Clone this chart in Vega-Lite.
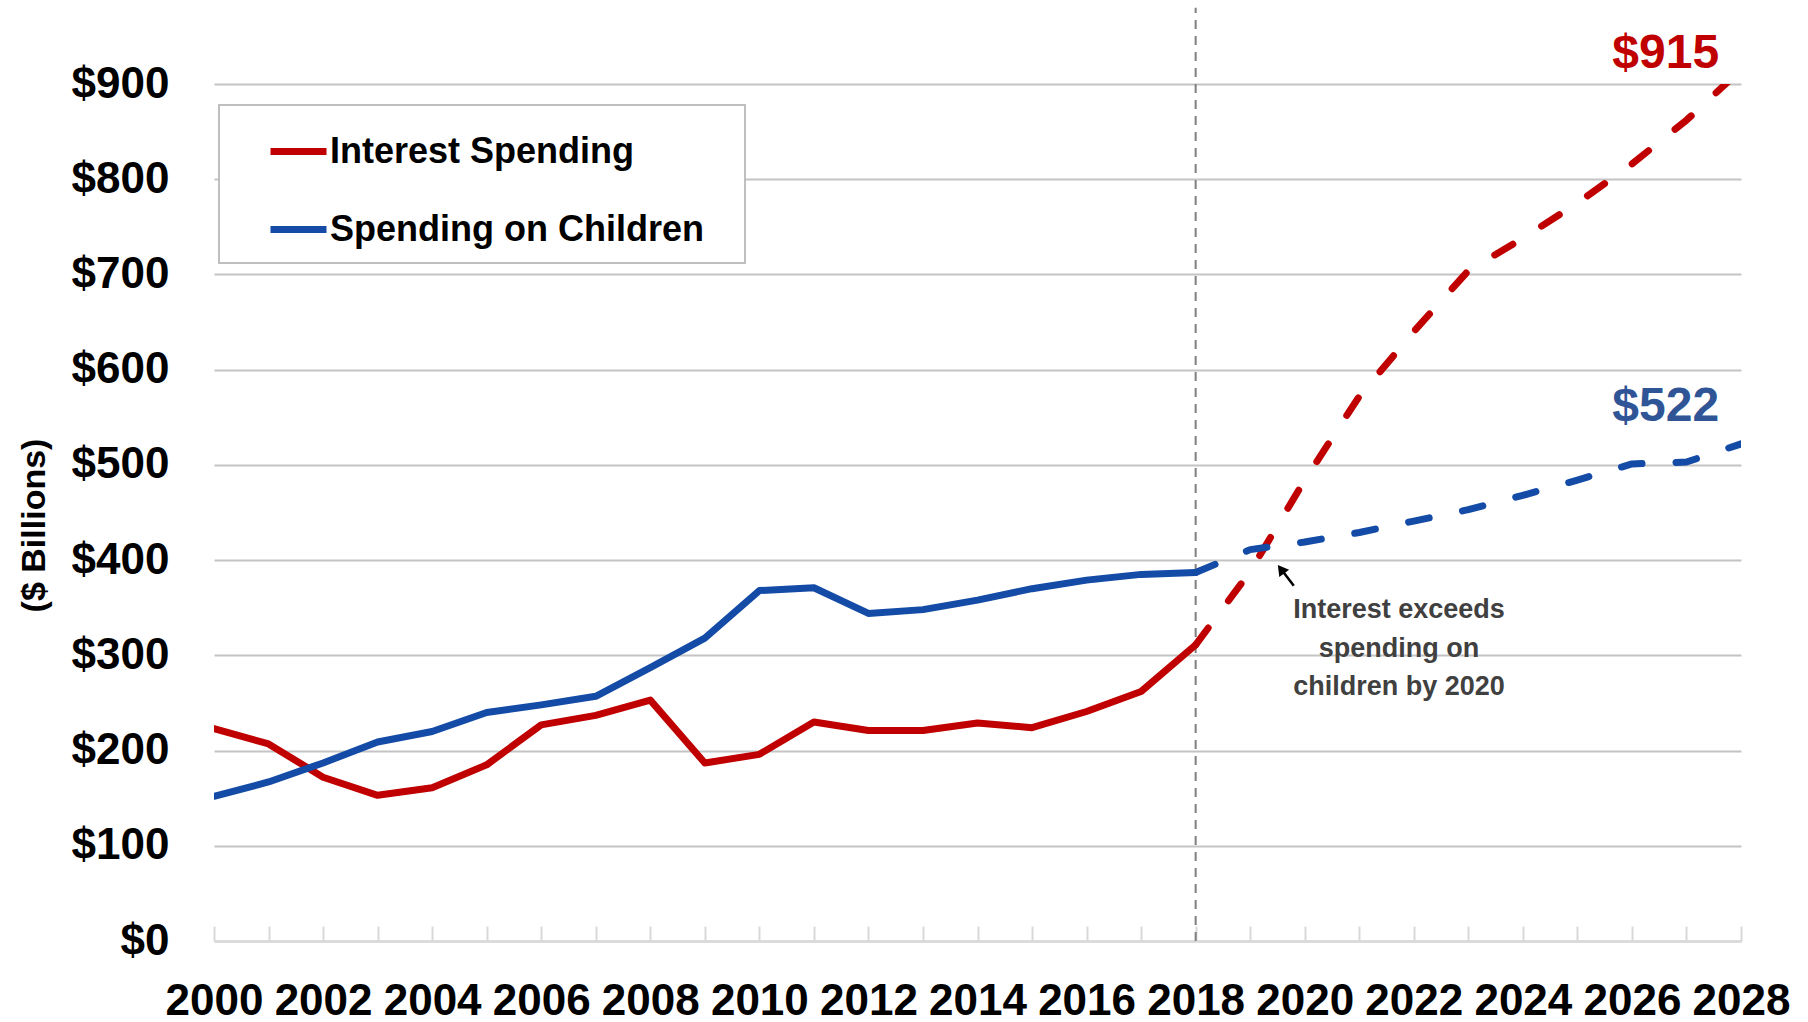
{
  "$schema": "https://vega.github.io/schema/vega-lite/v6.json",
  "autosize": "none",
  "width": 1527,
  "height": 857,
  "padding": {"left": 214, "top": 84, "right": 67, "bottom": 81},
  "background": "white",
  "config": {
    "font": "Liberation Sans",
    "view": {"stroke": null}
  },
  "datasets": {
    "lines": [
      {"year": 2000, "value": 223, "series": "Interest Spending", "phase": "actual"},
      {"year": 2001, "value": 207, "series": "Interest Spending", "phase": "actual"},
      {"year": 2002, "value": 172, "series": "Interest Spending", "phase": "actual"},
      {"year": 2003, "value": 153, "series": "Interest Spending", "phase": "actual"},
      {"year": 2004, "value": 161, "series": "Interest Spending", "phase": "actual"},
      {"year": 2005, "value": 185, "series": "Interest Spending", "phase": "actual"},
      {"year": 2006, "value": 227, "series": "Interest Spending", "phase": "actual"},
      {"year": 2007, "value": 237, "series": "Interest Spending", "phase": "actual"},
      {"year": 2008, "value": 253, "series": "Interest Spending", "phase": "actual"},
      {"year": 2009, "value": 187, "series": "Interest Spending", "phase": "actual"},
      {"year": 2010, "value": 196, "series": "Interest Spending", "phase": "actual"},
      {"year": 2011, "value": 230, "series": "Interest Spending", "phase": "actual"},
      {"year": 2012, "value": 221, "series": "Interest Spending", "phase": "actual"},
      {"year": 2013, "value": 221, "series": "Interest Spending", "phase": "actual"},
      {"year": 2014, "value": 229, "series": "Interest Spending", "phase": "actual"},
      {"year": 2015, "value": 224, "series": "Interest Spending", "phase": "actual"},
      {"year": 2016, "value": 241, "series": "Interest Spending", "phase": "actual"},
      {"year": 2017, "value": 262, "series": "Interest Spending", "phase": "actual"},
      {"year": 2018, "value": 311, "series": "Interest Spending", "phase": "actual"},
      {"year": 2018, "value": 311, "series": "Interest Spending", "phase": "projected"},
      {"year": 2019, "value": 388, "series": "Interest Spending", "phase": "projected"},
      {"year": 2020, "value": 484, "series": "Interest Spending", "phase": "projected"},
      {"year": 2021, "value": 572, "series": "Interest Spending", "phase": "projected"},
      {"year": 2022, "value": 640, "series": "Interest Spending", "phase": "projected"},
      {"year": 2023, "value": 704, "series": "Interest Spending", "phase": "projected"},
      {"year": 2024, "value": 738, "series": "Interest Spending", "phase": "projected"},
      {"year": 2025, "value": 775, "series": "Interest Spending", "phase": "projected"},
      {"year": 2026, "value": 816, "series": "Interest Spending", "phase": "projected"},
      {"year": 2027, "value": 862, "series": "Interest Spending", "phase": "projected"},
      {"year": 2028, "value": 915, "series": "Interest Spending", "phase": "projected"},
      {"year": 2000, "value": 152, "series": "Spending on Children", "phase": "actual"},
      {"year": 2001, "value": 167, "series": "Spending on Children", "phase": "actual"},
      {"year": 2002, "value": 187, "series": "Spending on Children", "phase": "actual"},
      {"year": 2003, "value": 209, "series": "Spending on Children", "phase": "actual"},
      {"year": 2004, "value": 220, "series": "Spending on Children", "phase": "actual"},
      {"year": 2005, "value": 240, "series": "Spending on Children", "phase": "actual"},
      {"year": 2006, "value": 248, "series": "Spending on Children", "phase": "actual"},
      {"year": 2007, "value": 257, "series": "Spending on Children", "phase": "actual"},
      {"year": 2008, "value": 287, "series": "Spending on Children", "phase": "actual"},
      {"year": 2009, "value": 318, "series": "Spending on Children", "phase": "actual"},
      {"year": 2010, "value": 368, "series": "Spending on Children", "phase": "actual"},
      {"year": 2011, "value": 371, "series": "Spending on Children", "phase": "actual"},
      {"year": 2012, "value": 344, "series": "Spending on Children", "phase": "actual"},
      {"year": 2013, "value": 348, "series": "Spending on Children", "phase": "actual"},
      {"year": 2014, "value": 358, "series": "Spending on Children", "phase": "actual"},
      {"year": 2015, "value": 370, "series": "Spending on Children", "phase": "actual"},
      {"year": 2016, "value": 379, "series": "Spending on Children", "phase": "actual"},
      {"year": 2017, "value": 385, "series": "Spending on Children", "phase": "actual"},
      {"year": 2018, "value": 387, "series": "Spending on Children", "phase": "actual"},
      {"year": 2018, "value": 387, "series": "Spending on Children", "phase": "projected"},
      {"year": 2019, "value": 411, "series": "Spending on Children", "phase": "projected"},
      {"year": 2020, "value": 419, "series": "Spending on Children", "phase": "projected"},
      {"year": 2021, "value": 429, "series": "Spending on Children", "phase": "projected"},
      {"year": 2022, "value": 441, "series": "Spending on Children", "phase": "projected"},
      {"year": 2023, "value": 453, "series": "Spending on Children", "phase": "projected"},
      {"year": 2024, "value": 468, "series": "Spending on Children", "phase": "projected"},
      {"year": 2025, "value": 484, "series": "Spending on Children", "phase": "projected"},
      {"year": 2026, "value": 501, "series": "Spending on Children", "phase": "projected"},
      {"year": 2027, "value": 503, "series": "Spending on Children", "phase": "projected"},
      {"year": 2028, "value": 522, "series": "Spending on Children", "phase": "projected"}
    ]
  },
  "layer": [
    {
      "data": {"values": [{"year": 2018, "lo": 0, "hi": 980}]},
      "mark": {"type": "rule", "color": "#7f7f7f", "strokeWidth": 2, "strokeDash": [9, 7]},
      "encoding": {
        "x": {"field": "year", "type": "quantitative",
          "scale": {"domain": [2000, 2028], "nice": false, "zero": false},
          "axis": {
            "values": [2000,2001,2002,2003,2004,2005,2006,2007,2008,2009,2010,2011,2012,2013,2014,2015,2016,2017,2018,2019,2020,2021,2022,2023,2024,2025,2026,2027,2028],
            "labelExpr": "datum.value % 2 === 0 ? '' + datum.value : ''",
            "title": null,
            "grid": false,
            "domain": true,
            "domainColor": "#d9d9d9",
            "domainWidth": 2,
            "ticks": true,
            "tickColor": "#d9d9d9",
            "tickWidth": 2,
            "tickSize": -15,
            "labelPadding": 53,
            "labelFontSize": 44,
            "labelFontWeight": "bold",
            "labelColor": "#000000",
            "labelFlush": false,
            "labelOverlap": false
          }
        },
        "y": {"field": "lo", "type": "quantitative",
          "scale": {"domain": [0, 900], "nice": false, "zero": true},
          "axis": {
            "values": [0,100,200,300,400,500,600,700,800,900],
            "labelExpr": "'$' + datum.value",
            "title": "($ Billions)",
            "titleFontSize": 34,
            "titleFontWeight": "bold",
            "titleColor": "#000000",
            "titleAngle": -90,
            "titleX": -180,
            "titleY": 441,
            "titleAlign": "center",
            "titleBaseline": "middle",
            "grid": true,
            "gridColor": "#c4c4c4",
            "gridWidth": 2,
            "domain": false,
            "ticks": false,
            "labelPadding": 45,
            "labelFontSize": 44,
            "labelFontWeight": "bold",
            "labelColor": "#000000"
          }
        },
        "y2": {"field": "hi"}
      }
    },
    {
      "data": {"name": "lines"},
      "transform": [{"filter": "datum.phase === 'actual'"}],
      "mark": {"type": "line", "strokeWidth": 7, "strokeCap": "round", "strokeJoin": "round", "clip": true},
      "encoding": {
        "x": {"field": "year", "type": "quantitative"},
        "y": {"field": "value", "type": "quantitative"},
        "color": {"field": "series", "type": "nominal",
          "scale": {"domain": ["Interest Spending", "Spending on Children"], "range": ["#C00000", "#134BA6"]},
          "legend": {
            "orient": "none",
            "legendX": 5,
            "legendY": 21,
            "title": null,
            "fillColor": "#ffffff",
            "strokeColor": "#bfbfbf",
            "padding": 15,
            "symbolType": "stroke",
            "symbolSize": 3136,
            "symbolStrokeWidth": 7,
            "symbolOffset": 33,
            "labelOffset": 0,
            "rowPadding": 28,
            "labelFontSize": 36,
            "labelFontWeight": "bold",
            "labelColor": "#000000",
            "labelLimit": 700,
            "labelExpr": "datum.label + '\u2800'",
            "encode": {"legend": {"update": {"strokeWidth": {"value": 2}}}}
          }
        }
      }
    },
    {
      "data": {"name": "lines"},
      "transform": [{"filter": "datum.phase === 'projected'"}],
      "mark": {"type": "line", "strokeWidth": 7, "strokeCap": "round", "strokeJoin": "round", "strokeDash": [21, 34], "clip": true},
      "encoding": {
        "x": {"field": "year", "type": "quantitative"},
        "y": {"field": "value", "type": "quantitative"},
        "color": {"field": "series", "type": "nominal"}
      }
    },
    {
      "data": {"values": [{"year": 2026.62, "value": 932, "label": "$915"}]},
      "mark": {"type": "text", "fontSize": 48, "fontWeight": "bold", "align": "center", "baseline": "middle", "color": "#C00000"},
      "encoding": {
        "x": {"field": "year", "type": "quantitative"},
        "y": {"field": "value", "type": "quantitative"},
        "text": {"field": "label"}
      }
    },
    {
      "data": {"values": [{"year": 2026.62, "value": 561, "label": "$522"}]},
      "mark": {"type": "text", "fontSize": 48, "fontWeight": "bold", "align": "center", "baseline": "middle", "color": "#2F5597"},
      "encoding": {
        "x": {"field": "year", "type": "quantitative"},
        "y": {"field": "value", "type": "quantitative"},
        "text": {"field": "label"}
      }
    },
    {
      "data": {"values": [{"year": 2021.73, "value": 361, "label": ["Interest exceeds", "spending on", "children by 2020"]}]},
      "mark": {"type": "text", "fontSize": 27, "fontWeight": "bold", "color": "#404040", "align": "center", "baseline": "top", "lineHeight": 38.5},
      "encoding": {
        "x": {"field": "year", "type": "quantitative"},
        "y": {"field": "value", "type": "quantitative"},
        "text": {"field": "label"}
      }
    },
    {
      "data": {"values": [{"tailx": 2019.80, "taily": 373, "headx": 2019.575, "heady": 390}]},
      "mark": {"type": "rule", "color": "#000000", "strokeWidth": 2.5},
      "encoding": {
        "x": {"field": "tailx", "type": "quantitative"},
        "y": {"field": "taily", "type": "quantitative"},
        "x2": {"field": "headx"},
        "y2": {"field": "heady"}
      }
    },
    {
      "data": {"values": [{"px": 2019.565, "py": 390.5}]},
      "mark": {"type": "point", "shape": "triangle-up", "filled": true, "color": "#000000", "opacity": 1, "size": 150, "angle": 323},
      "encoding": {
        "x": {"field": "px", "type": "quantitative"},
        "y": {"field": "py", "type": "quantitative"}
      }
    }
  ]
}
